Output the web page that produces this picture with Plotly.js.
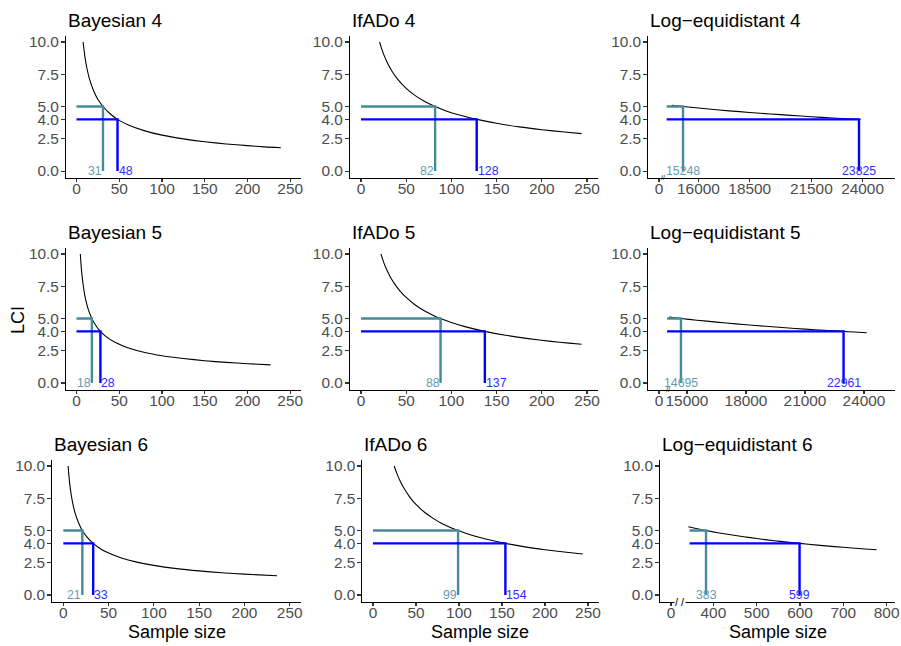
<!DOCTYPE html>
<html>
<head>
<meta charset="utf-8">
<script src="https://cdn.plot.ly/plotly-3.0.1.min.js"></script>
<style>html,body{margin:0;padding:0;background:#fff;}#chart{width:901px;height:646px;}</style>
</head>
<body>
<div id="chart"></div>
<script>
// ---------- DATA ----------
const titles = ["Bayesian 4", "IfADo 4", "Log\u2212equidistant 4",
                "Bayesian 5", "IfADo 5", "Log\u2212equidistant 5",
                "Bayesian 6", "IfADo 6", "Log\u2212equidistant 6"];

// curves: sample size vs LCI
const bay4N   = [7.7, 10, 12, 15, 20, 25, 31, 40, 48, 60, 80, 100, 125, 150, 175, 200, 220, 239];
const bay4LCI = [10.0, 8.79, 8.02, 7.18, 6.22, 5.56, 5.0, 4.40, 4.0, 3.59, 3.11, 2.78, 2.49, 2.27, 2.10, 1.97, 1.87, 1.80];
const ifa4N   = [20.5, 23, 26, 30, 35, 40, 50, 60, 70, 82, 95, 110, 128, 150, 175, 200, 225, 244];
const ifa4LCI = [10.0, 9.44, 8.88, 8.27, 7.65, 7.16, 6.40, 5.84, 5.41, 5.0, 4.64, 4.32, 4.0, 3.70, 3.42, 3.20, 3.02, 2.90];
const log4N   = [14700, 15248, 16000, 17000, 18000, 19000, 20000, 21000, 22000, 23000, 23825, 23900];
const log4LCI = [5.09, 5.0, 4.88, 4.73, 4.60, 4.48, 4.37, 4.26, 4.16, 4.07, 4.0, 3.99];

const bay5N   = [4.5, 5, 6, 8, 10, 12, 15, 18, 22, 28, 35, 45, 60, 80, 100, 125, 150, 175, 200, 227];
const bay5LCI = [10.0, 9.48, 8.65, 7.50, 6.70, 6.12, 5.47, 5.0, 4.52, 4.0, 3.58, 3.16, 2.74, 2.37, 2.12, 1.90, 1.73, 1.60, 1.50, 1.41];
const ifa5N   = [22, 25, 28, 32, 37, 43, 50, 60, 70, 80, 88, 100, 115, 137, 160, 185, 210, 230, 244];
const ifa5LCI = [10.0, 9.37, 8.85, 8.28, 7.70, 7.14, 6.63, 6.05, 5.60, 5.24, 5.0, 4.69, 4.37, 4.0, 3.70, 3.44, 3.23, 3.09, 3.0];
const log5N   = [14090, 14695, 15500, 16500, 17500, 18500, 19500, 20500, 21500, 22961, 23500, 24140];
const log5LCI = [5.11, 5.0, 4.87, 4.72, 4.58, 4.46, 4.34, 4.23, 4.13, 4.0, 3.95, 3.90];

const bay6N   = [5.3, 6, 8, 10, 12, 15, 18, 21, 26, 33, 40, 50, 65, 80, 100, 125, 150, 175, 200, 236];
const bay6LCI = [10.0, 9.37, 8.11, 7.26, 6.62, 5.93, 5.41, 5.0, 4.50, 4.0, 3.63, 3.25, 2.85, 2.57, 2.30, 2.05, 1.87, 1.73, 1.62, 1.49];
const ifa6N   = [24.7, 28, 32, 37, 43, 50, 60, 70, 80, 90, 99, 115, 130, 154, 175, 200, 225, 244];
const ifa6LCI = [10.0, 9.39, 8.78, 8.17, 7.57, 7.02, 6.41, 5.94, 5.55, 5.24, 5.0, 4.63, 4.36, 4.0, 3.75, 3.51, 3.31, 3.18];
const log6N   = [342, 360, 383, 410, 440, 470, 500, 540, 570, 599, 640, 680, 720, 750, 777];
const log6LCI = [5.29, 5.16, 5.0, 4.83, 4.67, 4.52, 4.38, 4.21, 4.10, 4.0, 3.87, 3.75, 3.65, 3.57, 3.51];

// required sample sizes at LCI = 5 and LCI = 4
const n5 = [31, 82, 15248, 18, 88, 14695, 21, 99, 383];
const n4 = [48, 128, 23825, 28, 137, 22961, 33, 154, 599];
const lineStart = [0, 0, 14450, 0, 0, 13990, 0, 0, 345];
const lci5 = 5, lci4 = 4;

// y ticks
const yTickVals = [0, 2.5, 4, 5, 7.5, 10];
const yTickText = ["0.0", "2.5", "4.0", "5.0", "7.5", "10.0"];
// x ticks
const xTickVals = [0, 50, 100, 150, 200, 250];
const xTickText = ["0", "50", "100", "150", "200", "250"];
const log4TickVals = [14078, 16000, 18500, 21500, 24000];
const log4TickText = ["0", "16000", "18500", "21500", "24000"];
const log5TickVals = [13578, 15000, 18000, 21000, 24000];
const log5TickText = ["0", "15000", "18000", "21000", "24000"];
const log6TickVals = [302, 400, 500, 600, 700, 800];
const log6TickText = ["0", "400", "500", "600", "700", "800"];
const breakPos = [14273, 14036, 323];

// ---------- BUILD ----------
const curvesN = [bay4N, ifa4N, log4N, bay5N, ifa5N, log5N, bay6N, ifa6N, log6N];
const curvesL = [bay4LCI, ifa4LCI, log4LCI, bay5LCI, ifa5LCI, log5LCI, bay6LCI, ifa6LCI, log6LCI];

const W = 901, H = 646;
const FONT = "Liberation Sans, Arial, Helvetica, sans-serif";
const TEAL = "#468A9C", TEAL_TXT = "#5F9DB4", BLUE = "#0000FF", BLUE_TXT = "#2E2EFF";
const TICK_SIZE = 15.4;

const xDomPx = [[65.8, 300.9], [349.7, 598.3], [648, 895],
                [65.8, 300.9], [349.7, 598.3], [648, 895],
                [52, 301], [362.2, 598.7], [660, 895]];
const yDomPx = [[35.5, 177.5], [247.5, 389.5], [459.5, 601.5]];
const xRanges = [[-12.5, 262.5], [-12.5, 262.5], [13542, 25579],
                 [-12.5, 262.5], [-12.5, 262.5], [13019, 25576],
                 [-12.5, 262.5], [-12.5, 262.5], [276.7, 819.4]];
const logTicks = {2: [log4TickVals, log4TickText], 5: [log5TickVals, log5TickText], 8: [log6TickVals, log6TickText]};

const traces = [], annotations = [], layout = {
  width: W, height: H, margin: {l: 0, r: 0, t: 0, b: 0},
  paper_bgcolor: "#fff", plot_bgcolor: "#fff", showlegend: false,
  font: {family: FONT}
};

for (let i = 0; i < 9; i++) {
  const r = Math.floor(i / 3), c = i % 3;
  const xa = i === 0 ? "x" : "x" + (i + 1);
  const ya = i === 0 ? "y" : "y" + (i + 1);
  const xKey = i === 0 ? "xaxis" : "xaxis" + (i + 1);
  const yKey = i === 0 ? "yaxis" : "yaxis" + (i + 1);
  const isLog = c === 2;

  traces.push({x: curvesN[i], y: curvesL[i], xaxis: xa, yaxis: ya, mode: "lines",
               line: {color: "#000", width: 1.1, shape: "spline", smoothing: 0.6}, hoverinfo: "skip"});
  traces.push({x: [lineStart[i], n5[i], n5[i]], y: [lci5, lci5, 0], xaxis: xa, yaxis: ya, mode: "lines",
               line: {color: TEAL, width: 2.4}, hoverinfo: "skip"});
  traces.push({x: [lineStart[i], n4[i], n4[i]], y: [lci4, lci4, 0], xaxis: xa, yaxis: ya, mode: "lines",
               line: {color: BLUE, width: 2.4}, hoverinfo: "skip"});

  const tv = isLog ? logTicks[i][0] : xTickVals;
  const tt = isLog ? logTicks[i][1] : xTickText;
  layout[xKey] = {
    domain: [xDomPx[i][0] / W, xDomPx[i][1] / W], anchor: ya, range: xRanges[i],
    showgrid: false, zeroline: false, showline: true, linecolor: "#000", linewidth: 1.1,
    ticks: "outside", ticklen: 3.7, tickwidth: 1.1, tickcolor: "#333",
    tickvals: tv, ticktext: tt, tickfont: {family: FONT, size: TICK_SIZE, color: "#4D4D4D"},
    ticklabelstandoff: -7, fixedrange: true
  };
  layout[yKey] = {
    domain: [1 - yDomPx[r][1] / H, 1 - yDomPx[r][0] / H], anchor: xa, range: [-0.5, 10.5],
    showgrid: false, zeroline: false, showline: true, linecolor: "#000", linewidth: 1.1,
    ticks: "outside", ticklen: 3.7, tickwidth: 1.1, tickcolor: "#333",
    tickvals: yTickVals, ticktext: yTickText, tickfont: {family: FONT, size: TICK_SIZE, color: "#4D4D4D"},
    ticklabelstandoff: -1, fixedrange: true
  };

  // panel title
  annotations.push({xref: "paper", yref: "paper", x: xDomPx[i][0] / W, y: 1 - (yDomPx[r][0] - 15) / H,
                    xanchor: "left", yanchor: "middle", showarrow: false, text: titles[i],
                    font: {family: FONT, size: 19, color: "#000"}});
  // x axis title on bottom row
  if (r === 2) {
    annotations.push({xref: "paper", yref: "paper", x: (xDomPx[i][0] + xDomPx[i][1]) / 2 / W, y: 1 - 632 / H,
                      xanchor: "center", yanchor: "middle", showarrow: false, text: "Sample size",
                      font: {family: FONT, size: 18, color: "#000"}});
  }
  // value labels
  annotations.push({xref: xa, yref: ya, x: n5[i], y: 0, xanchor: isLog ? "center" : "right", yanchor: "middle",
                    showarrow: false, text: String(n5[i]), font: {family: FONT, size: 12.3, color: TEAL_TXT}, borderpad: 0});
  annotations.push({xref: xa, yref: ya, x: n4[i], y: 0, xanchor: isLog ? "center" : "left", yanchor: "middle",
                    showarrow: false, text: String(n4[i]), font: {family: FONT, size: 12.3, color: BLUE_TXT}, borderpad: 0});
  // axis break marker
  if (isLog) {
    const bp = breakPos[(i - 2) / 3];
    annotations.push({xref: xa, yref: "paper", x: bp, y: 1 - yDomPx[r][1] / H, xanchor: "center", yanchor: "middle",
                      showarrow: false, text: r === 2 ? "/ /" : "//",
                      font: {family: FONT, size: r === 2 ? 11 : 7, color: "#000"},
                      bgcolor: r === 2 ? "#fff" : "rgba(255,255,255,0)", borderpad: 0});
  }
}

annotations.push({xref: "paper", yref: "paper", x: 18 / W, y: 1 - 320 / H, xanchor: "center", yanchor: "middle",
                  showarrow: false, text: "LCI", textangle: -90, font: {family: FONT, size: 18, color: "#000"}});

layout.annotations = annotations;
Plotly.newPlot("chart", traces, layout, {staticPlot: true, displayModeBar: false});
</script>
</body>
</html>
